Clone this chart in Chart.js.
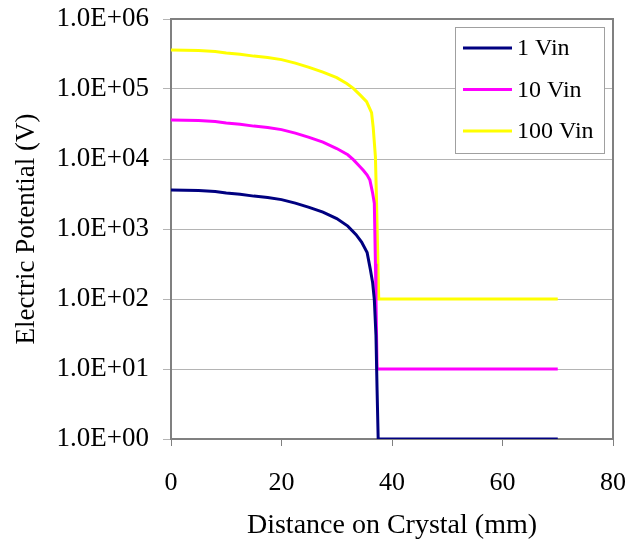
<!DOCTYPE html>
<html>
<head>
<meta charset="utf-8">
<script src="https://cdn.jsdelivr.net/npm/chart.js@4"></script>
<style>
  body { margin: 0; background: #fff; }
  #wrap { width: 630px; height: 543px; }
</style>
</head>
<body>
<div id="wrap"><canvas id="grafica" width="630" height="543"></canvas></div>
<script>
  // distance (mm) and potential (V)
  const dist1 = [0, 5, 8, 10, 12.5, 15, 17.5, 20, 22.5, 25, 27.5, 30, 32, 33.5, 34.5, 35.5, 36.1, 36.5, 36.8, 37.1, 37.3, 37.5, 70];
  const vin1  = [3600, 3550, 3430, 3270, 3130, 2950, 2820, 2630, 2340, 2040, 1740, 1410, 1100, 830, 650, 460, 260, 170, 98, 30, 5, 1, 1];

  const dist10 = [0, 5, 8, 10, 12.5, 15, 17.5, 20, 22.5, 25, 27.5, 30, 32, 33, 34, 34.8, 35.5, 36, 36.5, 36.8, 37.0, 37.1, 37.3, 70];
  const vin10  = [36000, 35500, 34300, 32700, 31300, 29500, 28200, 26300, 23400, 20400, 17400, 14100, 11500, 9800, 8100, 6900, 5900, 5000, 3240, 2340, 320, 100, 10, 10];

  const dist100 = [0, 5, 8, 10, 12.5, 15, 17.5, 20, 22.5, 25, 27.5, 30, 31.8, 33, 34.3, 35.4, 36.3, 36.6, 37.0, 37.2, 37.4, 37.6, 70];
  const vin100  = [360000, 355000, 343000, 327000, 313000, 295000, 282000, 263000, 234000, 204000, 174000, 145000, 120000, 102000, 81000, 66000, 46000, 28000, 10700, 2500, 500, 100, 100];

  const seriesNames = ['1 Vin', '10 Vin', '100 Vin'];
  const seriesColors = ['#000080', '#ff00ff', '#ffff00'];
  const yTicks = [1, 10, 100, 1000, 10000, 100000, 1000000];
  const xTicks = [0, 20, 40, 60, 80];

  const serif = "'Liberation Serif', 'Times New Roman', serif";

  const pts = (xs, ys) => xs.map((x, i) => ({ x: x, y: ys[i] }));

  const boxPlugin = {
    id: 'boxAndLegend',
    afterDraw(chart) {
      const ctx = chart.ctx;
      const ca = chart.chartArea;
      ctx.save();
      // top and right frame
      ctx.strokeStyle = '#808080';
      ctx.lineWidth = 2;
      ctx.beginPath();
      ctx.moveTo(ca.left, ca.top);
      ctx.lineTo(ca.right, ca.top);
      ctx.lineTo(ca.right, ca.bottom);
      ctx.stroke();

      // legend box inside the plot
      const bx = ca.right - 158, by = ca.top + 8, bw = 149, bh = 126;
      ctx.fillStyle = '#fff';
      ctx.fillRect(bx, by, bw, bh);
      ctx.strokeStyle = '#a0a0a0';
      ctx.lineWidth = 1;
      ctx.strokeRect(bx + 0.5, by + 0.5, bw, bh);
      ctx.font = '24px ' + serif;
      ctx.textBaseline = 'middle';
      ctx.fillStyle = '#000';
      seriesNames.forEach((name, i) => {
        const ly = by + 21 + i * 41.5;
        ctx.strokeStyle = seriesColors[i];
        ctx.lineWidth = 3;
        ctx.beginPath();
        ctx.moveTo(bx + 8, ly);
        ctx.lineTo(bx + 57, ly);
        ctx.stroke();
        ctx.fillText(name, bx + 62, ly + 1);
      });
      ctx.restore();
    }
  };

  const graph = document.getElementById('grafica');
  const myChart = new Chart(graph, {
    type: 'line',
    data: {
      datasets: [
        { label: seriesNames[0], data: pts(dist1, vin1), borderColor: seriesColors[0] },
        { label: seriesNames[1], data: pts(dist10, vin10), borderColor: seriesColors[1] },
        { label: seriesNames[2], data: pts(dist100, vin100), borderColor: seriesColors[2] },
      ],
    },
    options: {
      responsive: false,
      animation: false,
      layout: { padding: { left: 0, right: 17, top: 19, bottom: 0 } },
      elements: {
        point: { radius: 0 },
        line: { borderWidth: 3, tension: 0, fill: false },
      },
      plugins: {
        legend: { display: false },
        tooltip: { enabled: false },
      },
      scales: {
        x: {
          type: 'linear',
          min: 0,
          max: 80,
          afterBuildTicks: s => { s.ticks = xTicks.map(v => ({ value: v })); },
          ticks: { color: '#000', font: { family: serif, size: 26 }, padding: 22, maxRotation: 0 },
          grid: { drawOnChartArea: false, color: '#808080', tickLength: 7 },
          border: { color: '#808080', width: 2 },
          title: {
            display: true,
            text: 'Distance on Crystal (mm)',
            color: '#000',
            font: { family: serif, size: 28 },
            padding: { top: 0, bottom: 1 },
          },
          afterFit: s => { s.height = 104; s.paddingLeft = 0; s.paddingRight = 0; },
        },
        y: {
          type: 'logarithmic',
          min: 1,
          max: 1000000,
          afterBuildTicks: s => { s.ticks = yTicks.map(v => ({ value: v })); },
          ticks: {
            color: '#000',
            font: { family: serif, size: 27 },
            padding: 14,
            callback: v => '1.0E+' + String(Math.round(Math.log10(v))).padStart(2, '0'),
          },
          grid: { color: '#b4b4b4', tickLength: 8 },
          border: { color: '#808080', width: 2 },
          title: {
            display: true,
            text: 'Electric Potential (V)',
            color: '#000',
            font: { family: serif, size: 27 },
            padding: { top: 11, bottom: 0 },
          },
          afterFit: s => { s.width = 171; s.paddingTop = 0; s.paddingBottom = 0; },
        },
      },
    },
    plugins: [boxPlugin],
  });
</script>
</body>
</html>
